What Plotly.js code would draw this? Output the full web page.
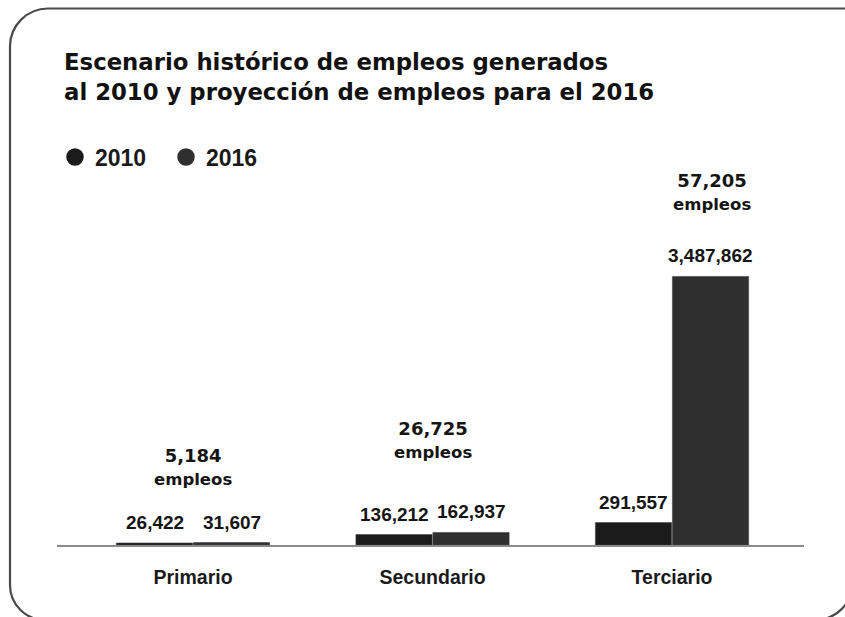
<!DOCTYPE html>
<html>
<head>
<meta charset="utf-8">
<script src="https://cdn.plot.ly/plotly-3.0.1.min.js"></script>
<style>html,body{margin:0;padding:0;background:#fff;}#chart{width:845px;height:617px;}</style>
</head>
<body>
<div id="chart"></div>
<script>
// ---- data ----
const categories = ["Primario", "Secundario", "Terciario"];
const seriesNames = ["2010", "2016"];
const empleos2010 = [26422, 136212, 291557];
const empleos2016 = [31607, 162937, 3487862];
const nuevosEmpleos = [5184, 26725, 57205];
const titleLines = ["Escenario histórico de empleos generados", "al 2010 y proyección de empleos para el 2016"];

// ---- styling / layout constants ----
const W = 845, H = 617, M = {l: 57, r: 41, t: 160, b: 72};
const PW = W - M.l - M.r, PH = H - M.t - M.b;
const colors = ["#1b1b1b", "#2f2f2f"];
const ARIAL = "Liberation Sans, Arial, sans-serif";
const WIDE = "DejaVu Sans, Verdana, sans-serif";
const barOffset = 38.5;
const groupLabelShiftX = [0, 0, 40];
const groupLabelShiftY = [52, 68, 60];

const fmt = v => v.toLocaleString("en-US");
const px = x => (x - M.l) / PW;
const py = y => (H - M.b - y) / PH;

// rounded border path (pixel coords -> paper coords)
function borderPath() {
  const k = 0.5523, x0 = 10, y0 = 8.5, x1 = 853, y1 = 620, rtl = 38, rbr = 38, rbl = 35;
  const P = (x, y) => px(x).toFixed(5) + "," + py(y).toFixed(5);
  return "M" + P(x0, y0 + rtl) +
    " C" + P(x0, y0 + rtl * (1 - k)) + " " + P(x0 + rtl * (1 - k), y0) + " " + P(x0 + rtl, y0) +
    " L" + P(x1, y0) +
    " L" + P(x1, y1 - rbr) +
    " C" + P(x1, y1 - rbr * (1 - k)) + " " + P(x1 - rbr * (1 - k), y1) + " " + P(x1 - rbr, y1) +
    " L" + P(x0 + rbl, y1) +
    " C" + P(x0 + rbl * (1 - k), y1) + " " + P(x0, y1 - rbl * (1 - k)) + " " + P(x0, y1 - rbl) +
    " Z";
}

const series = [empleos2010, empleos2016];
const traces = [];
series.forEach((vals, s) => {
  traces.push({
    type: "bar", x: categories, y: vals, name: seriesNames[s],
    marker: {color: colors[s], line: {color: "#444", width: 0.6}},
    showlegend: false, hoverinfo: "none"
  });
});
// legend-only entries (circle symbols)
series.forEach((vals, s) => {
  traces.push({
    type: "scatter", mode: "markers", x: [null], y: [null], name: seriesNames[s],
    marker: {color: colors[s], size: 16, symbol: "circle", line: {color: colors[s], width: 1.5}},
    showlegend: true, hoverinfo: "none"
  });
});

const annotations = [];
series.forEach((vals, s) => {
  vals.forEach((v, i) => {
    annotations.push({
      x: categories[i], y: v, xref: "x", yref: "y", text: fmt(v), showarrow: false,
      xanchor: "center", yanchor: "bottom", xshift: (s === 0 ? -barOffset : barOffset), yshift: 8,
      font: {family: ARIAL, size: 19, weight: "bold", color: "#151515"}
    });
  });
});
nuevosEmpleos.forEach((d, i) => {
  annotations.push({
    x: categories[i], y: Math.max(empleos2010[i], empleos2016[i]), xref: "x", yref: "y",
    text: '<span style="font-size:18px">' + fmt(d) + '</span><br><span style="font-size:16.5px">empleos</span>',
    showarrow: false, xanchor: "center", yanchor: "bottom",
    xshift: groupLabelShiftX[i], yshift: groupLabelShiftY[i],
    font: {family: WIDE, size: 17.5, weight: "bold", color: "#151515"}
  });
});

const layout = {
  width: W, height: H,
  margin: {l: M.l, r: M.r, t: M.t, b: M.b, pad: 0, autoexpand: false},
  paper_bgcolor: "#ffffff", plot_bgcolor: "#ffffff",
  title: {
    text: titleLines.join("<br>"),
    font: {family: WIDE, size: 22.8, weight: "bold", color: "#111111"},
    xref: "container", yref: "container", x: 64 / W, xanchor: "left", y: 1 - 70 / H, yanchor: "top"
  },
  barmode: "group", bargap: 0.357, bargroupgap: 0.01,
  xaxis: {
    type: "category", range: [-0.568, 2.551], showline: true, linecolor: "#8a8a8a", linewidth: 2,
    showgrid: false, zeroline: false, ticks: "", ticklabelstandoff: 14,
    tickfont: {family: ARIAL, size: 19.5, weight: "bold", color: "#1a1a1a"}, fixedrange: true
  },
  yaxis: {range: [0, 5000000], visible: false, fixedrange: true},
  showlegend: true,
  legend: {
    orientation: "h", xref: "container", yref: "container", x: 55 / W, y: 1 - 157 / H,
    xanchor: "left", yanchor: "middle", entrywidth: 66, bgcolor: "rgba(0,0,0,0)",
    font: {family: ARIAL, size: 23, weight: "bold", color: "#1a1a1a"}
  },
  shapes: [{type: "path", xref: "paper", yref: "paper", path: borderPath(), line: {color: "#4a4a4a", width: 2.2}, layer: "below"}],
  annotations: annotations,
  hovermode: false
};

Plotly.newPlot("chart", traces, layout, {displayModeBar: false, staticPlot: true});
</script>
</body>
</html>
